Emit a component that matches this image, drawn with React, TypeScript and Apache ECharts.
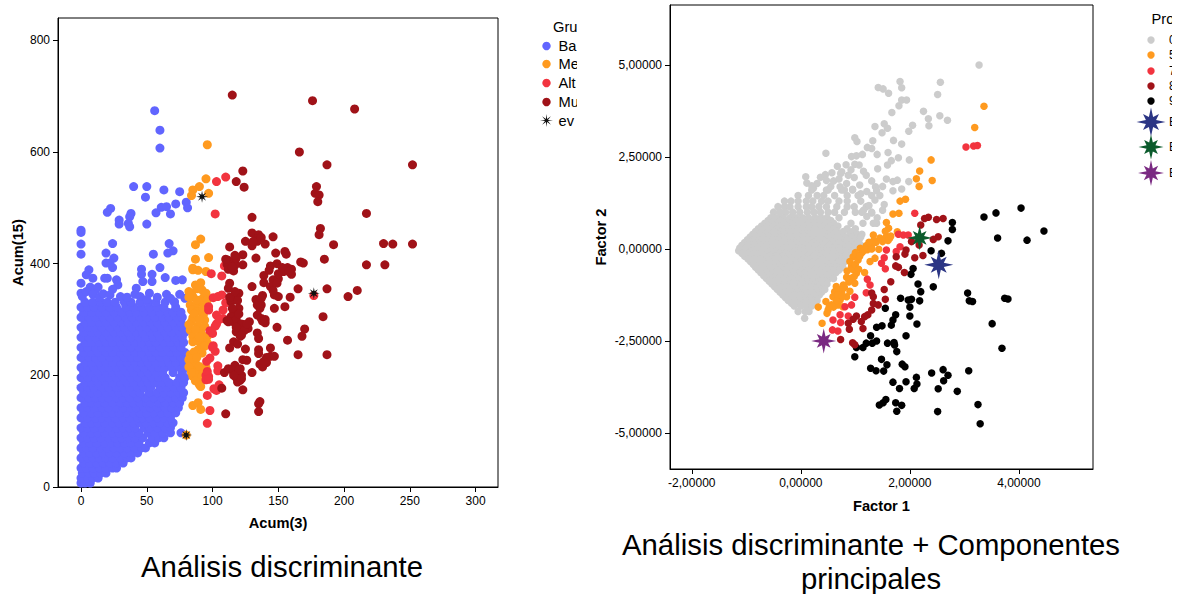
import React, { useEffect, useRef } from "react";
import * as echarts from "echarts";

const FONT = '"Liberation Sans", Arial, sans-serif';

// Left panel: rows of [y, x, x, ...]
const bajoRows: number[][] = [
  [7,0,3,7],[16,0,5,9,13],[25,1,6,10,15,19],[34,0,4,9,14,19,24,27],[43,2,7,12,17,22,27,32],
  [52,0,5,9,14,19,24,30,35,38],[61,2,7,12,17,22,27,33,38,43],[70,0,4,9,15,20,25,30,35,41,46,49],
  [79,2,7,12,18,23,28,33,38,44,52,56],[88,0,5,10,15,21,26,31,36,41,47,54,59,63],
  [97,2,8,13,18,24,29,34,39,44,51,56,62,68,76],[106,0,5,10,16,21,27,32,37,41,48,52,58,64,68],
  [115,3,8,13,18,24,29,34,40,45,49,55,60,66,70],[124,0,5,11,16,21,26,32,37,43,47,52,58,63,68],
  [133,2,8,13,19,24,29,35,40,45,50,55,61,66,72],[142,0,5,10,16,21,27,32,38,42,48,53,58,64,69,74],
  [151,3,8,13,18,24,30,35,40,45,50,53,59,64,70,75],[160,0,6,11,16,21,27,32,37,43,49,55,61,67,72,77],
  [169,2,8,13,19,24,29,34,40,45,52,58,63,68,74,78],[178,0,5,10,16,21,27,32,37,43,48,53,60,65,71,76],
  [187,3,8,13,19,24,30,35,40,46,51,56,62,67,73,78],[196,0,5,11,16,21,27,32,38,43,49,54,59,64,75,79],
  [205,2,8,13,19,24,29,35,40,46,51,57,62,70,77],[214,0,5,10,16,21,27,32,38,43,48,54,59,64,69,75,79],
  [223,3,8,14,19,24,30,35,41,46,51,57,62,67,72,78],[232,0,6,11,16,22,27,33,38,43,49,54,60,65,71,76],
  [241,2,8,13,19,24,30,35,41,46,52,57,62,68,73,79],[250,0,5,11,16,21,27,32,38,44,49,54,60,65,71,76],
  [259,3,8,14,19,24,30,35,41,46,52,57,63,68,74,78],[268,0,6,11,17,22,27,33,38,44,49,55,60,66,71,77],
  [277,2,8,13,19,25,30,36,42,47,53,58,64,69,75,79],[286,0,5,11,16,22,28,33,39,45,50,56,61,66,72,77],
  [295,3,8,14,19,25,31,36,42,48,53,58,64,70,76],[304,0,6,11,17,22,28,34,39,45,50,56,62,67,73,77],
  [313,2,8,14,19,25,31,37,42,48,54,60,66,70,76],[322,0,5,10,16,22,27,34,40,46,52,58,63,72],
  [331,3,9,15,20,26,33,38,45,51,57,64,71],
];
const bajoSparse: number[][] = [
  [56,674],[60,639],[60,607],[40,538],[50,538],[49,519],[63,532],[75,529],[72,507],[80,510],[81,500],
  [61,501],[65,502],[57,491],[68,489],[22.5,499],[20,492],[38,490],[37,484],[29,478],[29,471],[36,472],
  [37,466],[50,471],[0,460],[0,456],[0,435],[0,417],[24,436],[19,419],[67,436],[70,423],[66,419],[55,417],
  [25,410],[19,401],[24,393],[22,401],[46,390],[46,381],[60,393],[54,381],[54,368],[64,375],[72,370],
  [77,371],[6,389],[4,380],[9,374],[0,365],[18,374],[20,374],[27,371],[28,362],[24,354],[42,356],[47,368],
  [0,347],[1,341],[7,358],[11,353],[30,341],[52,347],[79,338],[71,332],
  [4,350],[9,345],[14,340],[13,358],[17,346],[22,344],[35,340],[41,345],[45,341],[50,336],[58,340],[65,345],[68,338],[75,345],
];
const medio: number[][] = [
  [80,93],[96,613],[95,552],[90,538],[85,532],[84,522],[97,526],[91,444],[87,434],[87,408],[97,411],[85,392],
  [85,389],[89,388],[95,386],[87,362],[91,366],[82,350],[92,353],[85,341],[90,332],[93,339],[83,326],[87,323],
  [92,332],[85,303],[93,308],[94,299],[83,281],[89,288],[91,278],[85,270],[96,270],[93,261],[91,250],[89,246],
  [83,237],[82,228],[83,222],[84,210],[85,198],[90,183],[89,210],[93,204],[87,222],[91,192],[85,146],[89,151],[91,139],
  [84,346],[88,355],[95,347],[82,340],[88,335],[96,335],[84,317],[88,314],[93,320],[86,310],[90,300],[84,296],
  [82,291],[87,282],[94,288],[85,260],[88,262],[96,258],[90,268],[94,252],[86,242],[84,230],[92,240],[88,232],
  [82,215],[86,204],[90,216],[95,214],[88,196],[92,198],[87,190],[91,180],[84,205],
];
const alto: number[][] = [
  [103,547],[110,555],[102,489],[109,396],[99,382],[107,378],[100.5,339],[107,344],[97,323],[97,317],[108,317],
  [103,308],[108,302],[98,280],[102,288],[100.5,253],[102,243],[98,231],[95.5,225],[104,217],[104,208],[95,200],
  [97,198],[95,192],[105,183],[103,173],[96,164],[98,137],[96,114],[177,343],
  [100,275],[103,292],[105,300],[96,207],[97,193],[101,176],[104,341],[110,330],[100,250],
];
const muyAlto: number[][] = [
  [115,702],[176,692],[208,677],[166,600],[187,577],[252,577],[123,566],[118,547],[124,537],[179,538],[178,526],
  [181,523],[180,511],[217,490],[130,483],[182,463],[181,452],[130,455],[135,452],[146,448],[134,445],[134,440],
  [130,432],[140,435],[192,434],[230,436],[237,435],[252,435],[113,430],[123,416],[148,419],[155,422],[156,417],
  [112,406],[117,405],[133,410],[185,408],[167,403],[169,401],[111,399],[123,398],[117,397],[116,387],[144,396],
  [149,400],[157,393],[217,398],[231,398],[160,390],[154,386],[160,381],[139,379],[150,373],[113,365],[112,356],
  [130,359],[139,366],[146,371],[144,359],[147,344],[150,341],[165,355],[187,355],[120,347],[117,342],[138,343],
  [159,340],[203,341],[210,352],[114,332],[133,336],[137,326],[136,320],[134,308],[155,323],[147,320],[120,320],
  [116,314],[114,305],[111,298],[116,296],[120,290],[128,296],[125,290],[140,294],[137,302],[184,305],[149,286],
  [121,281],[118,278],[127,284],[134,276],[135,266],[170,283],[168,270],[157,263],[121,270],[116,260],[119,256],
  [113,249],[125,247],[135,246],[135,239],[144,249],[144,234],[147,234],[165,237],[187,237],[123,228],[126,227],
  [136,220],[141,223],[138,215],[117,218],[115,209],[121,212],[119,203],[122,200],[121,191],[119,188],[109,205],
  [130,205],[107,177],[123,174],[136,153],[135,149],[135,135],[110,131],
  [118,300],[122,292],[124,280],[112,296],[118,286],[122,272],[126,292],[120,310],[115,320],[119,334],[113,340],
  [117,350],[122,194],[118,196],[120,210],[116,200],[112,212],[141,232],[139,225],[138,297],[140,300],[134,326],
  [137,338],[149,365],[146,352],[150,382],[153,393],[143,388],[158,386],[112,390],[118,410],[117,415],[110,408],
  [115,394],[131,440],[137,447],[125,440],
];
const eventos: number[][] = [[92,520],[177,347],[80,93]];

// Right panel: rows of [y, x, x, ...]
const gris0Rows: number[][] = [
  [1.6,0.2,0.5,0.75,0.95],
  [1.45,-0.05,0.14,0.3,0.42,0.62,0.85,1.05,1.3],
  [1.3,-0.3,-0.18,-0.05,0.1,0.22,0.38,0.5,0.7,0.85,1.1],
  [1.15,-0.42,-0.3,-0.2,-0.05,0.1,0.2,0.33,0.47,0.66,0.85,0.98,1.2],
  [1.0,-0.5,-0.38,-0.28,-0.15,-0.02,0.12,0.24,0.36,0.5,0.62,0.8,1.0,1.12,1.3],
  [0.85,-0.55,-0.44,-0.32,-0.2,-0.09,0.03,0.14,0.26,0.37,0.48,0.7],
  [0.775,-0.6,-0.49,-0.37,-0.26,-0.14,-0.03,0.09,0.2,0.32,0.43,0.55],
  [0.7,-0.66,-0.54,-0.43,-0.31,-0.2,-0.08,0.03,0.15,0.26,0.38,0.5,0.6,0.92],
  [0.625,-0.72,-0.6,-0.49,-0.37,-0.26,-0.14,-0.03,0.09,0.2,0.31,0.43,0.55,0.68],
  [0.55,-0.78,-0.66,-0.55,-0.43,-0.32,-0.2,-0.09,0.03,0.14,0.25,0.37,0.49,0.6,0.85,1],
  [0.475,-0.83,-0.71,-0.6,-0.48,-0.37,-0.25,-0.14,-0.02,0.09,0.2,0.32,0.44,0.55,0.66,0.78,0.95],
  [0.4,-0.88,-0.76,-0.65,-0.54,-0.42,-0.31,-0.19,-0.08,0.04,0.15,0.27,0.38,0.5,0.61,0.72,0.9,1.03,1.12],
  [0.325,-0.93,-0.82,-0.7,-0.59,-0.47,-0.36,-0.24,-0.13,-0.01,0.1,0.22,0.33,0.45,0.57,0.68,0.8,0.93,1.1],
  [0.25,-0.98,-0.87,-0.75,-0.64,-0.52,-0.41,-0.29,-0.18,-0.06,0.05,0.17,0.28,0.4,0.52,0.63,0.75,0.86,1,1.07],
  [0.175,-1.03,-0.91,-0.8,-0.68,-0.57,-0.45,-0.34,-0.22,-0.11,0.01,0.12,0.24,0.35,0.47,0.58,0.7,0.81,0.94,1.04],
  [0.1,-1.08,-0.96,-0.85,-0.73,-0.62,-0.5,-0.39,-0.27,-0.16,-0.04,0.07,0.19,0.3,0.42,0.53,0.65,0.76,0.88,0.98,1.1],
  [0.025,-1.12,-1,-0.9,-0.78,-0.67,-0.55,-0.44,-0.32,-0.21,-0.09,0.02,0.14,0.25,0.37,0.48,0.6,0.71,0.83,0.94,1.05],
  [-0.05,-1.14,-1.02,-0.91,-0.79,-0.68,-0.56,-0.45,-0.33,-0.22,-0.1,0.01,0.13,0.24,0.36,0.47,0.59,0.7,0.82,0.93,1.03],
  [-0.125,-1.08,-0.97,-0.85,-0.74,-0.62,-0.51,-0.39,-0.28,-0.16,-0.05,0.07,0.18,0.3,0.41,0.53,0.64,0.76,0.87,0.96],
  [-0.2,-1.03,-0.92,-0.8,-0.69,-0.57,-0.46,-0.34,-0.23,-0.11,0,0.12,0.23,0.35,0.46,0.58,0.69,0.81,0.88],
  [-0.275,-0.97,-0.86,-0.75,-0.63,-0.52,-0.4,-0.29,-0.17,-0.06,0.06,0.17,0.29,0.4,0.52,0.63,0.75,0.85],
  [-0.35,-0.92,-0.81,-0.69,-0.58,-0.46,-0.35,-0.23,-0.12,0,0.11,0.23,0.34,0.46,0.57,0.69,0.8],
  [-0.425,-0.87,-0.76,-0.64,-0.53,-0.41,-0.3,-0.18,-0.07,0.05,0.16,0.28,0.39,0.51,0.62,0.74],
  [-0.5,-0.83,-0.71,-0.6,-0.48,-0.37,-0.25,-0.14,-0.02,0.09,0.21,0.32,0.44,0.55,0.66,0.77],
  [-0.575,-0.78,-0.66,-0.55,-0.43,-0.32,-0.2,-0.09,0.03,0.14,0.26,0.37,0.49,0.6,0.7],
  [-0.65,-0.73,-0.62,-0.5,-0.39,-0.27,-0.16,-0.04,0.07,0.19,0.3,0.42,0.53,0.64],
  [-0.725,-0.68,-0.57,-0.45,-0.34,-0.22,-0.11,0.01,0.12,0.24,0.35,0.47,0.57],
  [-0.8,-0.63,-0.52,-0.4,-0.29,-0.17,-0.06,0.06,0.17,0.29,0.4,0.52,0.6],
  [-0.875,-0.58,-0.47,-0.35,-0.24,-0.12,-0.01,0.11,0.22,0.34,0.44],
  [-0.95,-0.53,-0.42,-0.3,-0.19,-0.07,0.04,0.16,0.27,0.39,0.48],
  [-1.025,-0.48,-0.36,-0.25,-0.13,-0.02,0.1,0.21,0.33,0.42],
  [-1.1,-0.43,-0.31,-0.2,-0.08,0.03,0.15,0.26,0.38,0.44],
  [-1.175,-0.38,-0.27,-0.15,-0.04,0.08,0.19,0.3,0.38],
  [-1.25,-0.33,-0.22,-0.1,0.01,0.13,0.24,0.34],
  [-1.325,-0.28,-0.16,-0.05,0.07,0.18,0.28],
  [-1.4,-0.23,-0.11,0,0.12,0.23,0.3],
  [-1.475,-0.17,-0.06,0.06,0.17,0.25],
  [-1.55,-0.12,0,0.1,0.2],
  [-1.7,-0.05,0.08,0.15],
  [-1.88,0.07],
];
const gris0Sparse: number[][] = [
  [1.42,4.39],[1.51,4.35],[1.82,4.55],[1.85,4.38],[1.61,4.23],[2.56,4.53],[2.51,4.2],[3.27,5.0],[1.85,4.05],[1.94,4.05],[1.8,3.89],
  [1.67,3.71],[2.25,3.74],[2.34,3.54],[2.55,3.62],[2.69,3.5],[2.35,3.35],[2.05,3.36],[1.98,3.2],[1.36,3.33],
  [1.53,3.4],[1.59,3.28],[1.49,3.16],[0.99,3.02],[1.03,2.92],[1.32,2.94],[1.7,2.95],[1.85,2.85],[0.46,2.6],
  [1.22,2.76],[1.3,2.73],[1.6,2.62],[1.4,2.57],[1.13,2.57],[1.02,2.53],[0.93,2.51],[1.79,2.48],[1.99,2.42],
  [1.66,2.4],[1.59,2.28],[0.99,2.3],[1.07,2.28],[0.83,2.29],[0.67,2.25],[1.41,2.18],[1.15,2.11],[0.57,2.07],
  [0.73,2.05],[0.87,2],[0.09,1.96],[0.11,1.79],[0.36,1.95],[0.47,1.86],[0.98,1.94],[1.57,1.9],[1.69,1.83],
  [1.77,1.87],[1.85,1.63],[1.69,1.58],[1.98,1.83],[1.36,1.33],[1.53,1.21],[0.23,1.65],[0.47,1.6],[0.72,1.69],
  [0.84,1.78],[1.08,1.74],[1.37,1.69],[1.21,1.56],[1.39,1.58],[1.39,0.7],[1.33,0.7],[1.21,0.88],[1.14,0.7],
  [0.3,1.78],[0.6,1.85],[0.2,1.72],[0.55,1.7],[0.95,1.62],[0.8,1.6],[1.1,1.5],[1.25,1.18],[1.45,1.45],[1.15,1.05],
  [1.3,0.98],[1.4,0.85],[1.5,1.05],[0.75,2.1],[0.92,2.15],[0.45,2.02],[1.2,2.0],[1.3,1.85],[1.5,1.7],[0.7,1.9],
];
const naranja5: number[][] = [
  [3.36,3.88],[3.19,3.3],[2.39,2.42],[2.18,2.12],[2.12,1.91],[2.41,1.86],[2.17,1.7],[1.82,1.3],[1.92,1.35],
  [1.69,0.95],[1.8,0.97],[1.57,0.72],[1.61,0.56],[1.77,0.47],[1.57,0.34],[1.63,0.29],[1.6,0.23],[1.33,0.38],
  [1.34,0.23],[1.3,0.11],[1.2,0.09],[1.09,0.02],[1.43,-0.01],[1.36,-0.25],[1.27,-0.34],[0.96,-0.21],[0.9,-0.34],
  [0.93,-0.48],[1.02,-0.66],[1.17,-0.64],[0.84,-0.77],[0.99,-0.93],[0.78,-0.98],[0.65,-1.02],[0.62,-1.16],
  [0.75,-1.16],[0.84,-1.3],[0.72,-1.39],[0.59,-1.3],[0.46,-1.43],[0.56,-1.52],[0.68,-1.52],[0.77,-1.57],
  [0.32,-1.58],[0.5,-1.66],[0.48,-1.75],[0.39,-2.02],
  [0.7,-1.1],[0.68,-1.25],[0.8,-1.05],[0.88,-0.9],[0.9,-1.15],[0.76,-1.3],[0.65,-1.42],[0.6,-1.58],[0.52,-1.58],
  [0.85,-0.6],[0.95,-0.55],[1,-0.42],[1.05,-0.3],[1.12,-0.1],[1,-0.1],[1.15,-0.05],[1.22,-0.02],[1.3,0],[1.25,0.18],
  [1.38,0.18],[1.45,0.3],[1.5,0.2],[1.65,0.35],[1.55,0.48],[1.06,-0.55],[0.98,-0.75],[0.92,-0.8],[1.08,-0.2],
];
const rojo7: number[][] = [
  [3.03,2.77],[3.17,2.8],[3.24,2.81],[2.09,0.97],[1.79,0.4],[1.88,0.38],[1.97,0.38],[1.57,-0.03],[1.75,-0.07],
  [1.82,0.06],[1.53,-0.24],[1.48,-0.39],[1.55,-0.54],[1.22,-0.82],[1.27,-0.98],[1.2,-1.19],[0.99,-1.31],
  [0.93,-1.52],[0.81,-1.57],[0.72,-1.79],[0.87,-1.82],[0.59,-1.93],[0.73,-2],[0.58,-2.2],[0.68,-2.23],
];
const granate8: number[][] = [
  [2.34,0.86],[2.27,0.83],[2.49,0.8],[2.61,0.83],[2.2,0.65],[2.52,0.33],[2.43,0.26],[2.03,0.2],[2.17,0.11],
  [1.93,-0.03],[1.91,-0.14],[1.75,-0.21],[2.09,-0.24],[2.24,-0.18],[1.74,-0.46],[1.79,-0.5],[1.9,-0.64],
  [1.65,-0.89],[1.53,-1.1],[1.3,-1.2],[1.33,-1.3],[1.55,-1.37],[1.33,-1.48],[1.42,-1.52],[1.3,-1.66],[1.23,-1.79],
  [1.17,-1.84],[1.02,-1.82],[0.96,-1.91],[0.87,-2.02],[0.89,-2.18],[1.11,-1.97],[1.14,-2.16],[0.73,-2.46],
  [0.95,-2.55],[0.99,-2.6],
];
const negro9: number[][] = [
  [3.36,0.87],[3.58,0.98],[4.04,1.11],[3.61,0.3],[4.15,0.24],[4.46,0.49],[2.78,0.72],[2.78,0.53],[2.7,0.22],
  [2.39,-0.05],[2.58,-0.12],[2.06,-0.53],[2.02,-0.69],[2.15,-0.95],[2.2,-1.16],[2.18,-1.41],[2.43,-1.03],[1.83,-1.34],
  [1.97,-1.39],[2.03,-1.37],[2,-1.58],[1.55,-1.61],[3.06,-1.2],[3.09,-1.41],[3.15,-1.43],[3.74,-1.34],[3.8,-1.36],
  [3.51,-2.03],[3.69,-2.7],[1.74,-1.79],[1.69,-1.93],[1.66,-2.07],[2,-1.82],[2.13,-2.04],[1.39,-2.13],[1.49,-2.09],
  [1.93,-2.36],[1.28,-2.36],[1.39,-2.5],[1.31,-2.56],[1.2,-2.56],[1.14,-2.68],[1.02,-2.68],[1.59,-2.56],[1.71,-2.54],
  [1.72,-2.61],[1.76,-2.79],[0.99,-2.93],[1.48,-3],[1.58,-3.15],[1.86,-3.13],[1.91,-3.2],[1.28,-3.24],[1.38,-3.31],
  [1.52,-3.32],[2.4,-3.37],[2.61,-3.28],[2.7,-3.43],[2.62,-3.58],[3.08,-3.31],[2.12,-3.49],[2.13,-3.67],[2.08,-3.79],
  [1.69,-3.62],[1.93,-3.61],[1.81,-3.79],[2.52,-3.8],[2.87,-3.87],[3.25,-4.23],[1.56,-4.09],[1.51,-4.18],[1.44,-4.24],
  [1.74,-4.18],[1.85,-4.25],[1.76,-4.41],[2.51,-4.42],[3.29,-4.75],
];
const estrellaAzul: number[][] = [[2.53,-0.43]];
const estrellaVerde: number[][] = [[2.18,0.3]];
const estrellaMorada: number[][] = [[0.42,-2.5]];

const leftXTicks = [0, 50, 100, 150, 200, 250, 300];
const leftYTicks = [0, 200, 400, 600, 800];
const rightXTicks = [-2, 0, 2, 4];
const rightYTicks = [-5, -2.5, 0, 2.5, 5];

const leftLegend = ["Ba", "Me", "Alt", "Mu", "ev"];
const rightLegend = ["0", "5", "7", "8", "9", "E", "E", "E"];

const C = {
  blue: "#6165ff", orange: "#ff9a1f", red: "#f2343f", dark: "#a01218", grey: "#cccccc",
  black: "#000000", navy: "#2b3584", green: "#0b5b2c", purple: "#7a2a82", event: "#111111",
};

const expand = (rows: number[][]) => rows.flatMap(([y, ...xs]) => xs.map((x) => [x, y]));

function starPoints(r: number, inner: number, diag: number) {
  const pts: number[][] = [];
  for (let i = 0; i < 16; i++) {
    const a = (i * Math.PI) / 8 - Math.PI / 2;
    const rad = i % 2 ? inner : i % 4 === 0 ? r : r * diag;
    pts.push([+(Math.cos(a) * rad).toFixed(2), +(Math.sin(a) * rad).toFixed(2)]);
  }
  return pts;
}
const starSym = (inner: number, diag: number) => {
  const p = starPoints(50, inner, diag).map(([x, y]) => [x + 50, y + 50]);
  return "path://M" + p.map(([x, y]) => `${x} ${y}`).join("L") + "Z";
};
const STAR = starSym(19, 0.78);
const ASTER = starSym(17, 0.95);

const axisBase = {
  type: "value" as const,
  splitLine: { show: false },
  axisLine: { show: true, onZero: false, lineStyle: { color: "#000", width: 1 } },
};

function xAxis(gridIndex: number, min: number, max: number, ticks: number[], fmt: any, name: string, gap: number) {
  return {
    ...axisBase, gridIndex, min, max, position: "bottom", name, nameLocation: "middle", nameGap: gap,
    nameTextStyle: { fontFamily: FONT, fontSize: 14.67, fontWeight: "bold", color: "#000" },
    axisTick: { show: true, length: 5, inside: false, customValues: ticks, lineStyle: { color: "#000" } },
    axisLabel: { show: true, customValues: ticks, formatter: fmt, fontFamily: FONT, fontSize: 12, color: "#000", margin: 8 },
  };
}
function yAxis(gridIndex: number, min: number, max: number, ticks: number[], fmt: any, name: string, gap: number) {
  return {
    ...axisBase, gridIndex, min, max, position: "left", name, nameLocation: "middle", nameGap: gap, nameRotate: 90,
    nameTextStyle: { fontFamily: FONT, fontSize: 14.67, fontWeight: "bold", color: "#000" },
    axisTick: { show: true, length: 5, inside: false, customValues: ticks, lineStyle: { color: "#000" } },
    axisLabel: { show: true, customValues: ticks, formatter: fmt, fontFamily: FONT, fontSize: 12, color: "#000", margin: 8 },
  };
}

const sc = (ax: number, data: number[][], color: string, size: number, z = 2, symbol: string = "circle") => ({
  type: "scatter" as const, xAxisIndex: ax, yAxisIndex: ax, data, symbol, symbolSize: size, z,
  itemStyle: { color, opacity: 1 }, emphasis: { disabled: true }, silent: true,
});

const txt = (x: number, y: number, text: string, fontSize = 14.67, align = "left") => ({
  type: "text" as const, x, y, silent: true, z: 20,
  style: { text, fontSize, fontFamily: FONT, fill: "#000", textAlign: align, textVerticalAlign: "middle" },
});
const dot = (cx: number, cy: number, r: number, fill: string) => ({
  type: "circle" as const, shape: { cx, cy, r }, style: { fill }, silent: true, z: 20,
});
const star = (x: number, y: number, r: number, inner: number, diag: number, fill: string) => ({
  type: "polygon" as const, x, y, shape: { points: starPoints(r, inner, diag) }, style: { fill }, silent: true, z: 20,
});

const LEFT_Y = [46, 64, 83, 102, 120.5];
const LEFT_C = [C.blue, C.orange, C.red, C.dark];
const RIGHT_Y = [40, 55, 71, 86, 101, 122, 147, 173];
const RIGHT_C = [C.grey, C.orange, C.red, C.dark, C.black];

export default function App() {
  const ref = useRef<HTMLDivElement>(null);
  useEffect(() => {
    const chart = echarts.init(ref.current!, undefined, { renderer: "svg" });
    const dec = (v: number) => v.toFixed(5).replace(".", ",");
    const elements: any[] = [
      txt(553, 27, "Gru"),
      ...LEFT_C.map((c, i) => dot(546.5, LEFT_Y[i], 4.2, c)),
      star(546.5, LEFT_Y[4], 6.5, 1.6, 0.95, C.event),
      ...leftLegend.map((t, i) => txt(558.5, LEFT_Y[i], t)),
      { type: "rect", shape: { x: 577, y: 10, width: 18, height: 125 }, style: { fill: "#fff" }, silent: true, z: 21 },
      txt(1151.5, 19, "Pro"),
      ...RIGHT_C.map((c, i) => dot(1151, RIGHT_Y[i], 3.7, c)),
      star(1151, RIGHT_Y[5], 14.5, 5.5, 0.78, C.navy),
      star(1151, RIGHT_Y[6], 12.5, 4.8, 0.78, C.green),
      star(1151, RIGHT_Y[7], 13, 4.8, 0.78, C.purple),
      ...rightLegend.map((t, i) => txt(1169, RIGHT_Y[i], t, 12)),
      { type: "rect", shape: { x: 1172, y: 5, width: 8, height: 185 }, style: { fill: "#fff" }, silent: true, z: 21 },
      txt(282, 566, "Análisis discriminante", 29.33, "center"),
      txt(871, 544, "Análisis discriminante + Componentes", 29.33, "center"),
      txt(871, 578, "principales", 29.33, "center"),
    ];
    chart.setOption({
      animation: false,
      backgroundColor: "#fff",
      grid: [
        { left: 58, top: 18, width: 440, height: 469, show: true, borderColor: "#000", borderWidth: 1, backgroundColor: "transparent" },
        { left: 670, top: 5, width: 423, height: 464, show: true, borderColor: "#000", borderWidth: 1, backgroundColor: "transparent" },
      ],
      xAxis: [
        xAxis(0, -17.5, 317, leftXTicks, (v: number) => String(v), "Acum(3)", 28),
        xAxis(1, -2.4, 5.36, rightXTicks, dec, "Factor 1", 29),
      ],
      yAxis: [
        yAxis(0, 0, 840, leftYTicks, (v: number) => String(v), "Acum(15)", 33),
        yAxis(1, -5.98, 6.63, rightYTicks, dec, "Factor 2", 62),
      ],
      series: [
        sc(0, [...expand(bajoRows), ...bajoSparse], C.blue, 9),
        sc(0, medio, C.orange, 9),
        sc(0, alto, C.red, 9),
        sc(0, muyAlto, C.dark, 9),
        sc(0, eventos, C.event, 12, 6, ASTER),
        sc(1, [...expand(gris0Rows), ...gris0Sparse], C.grey, 7.5),
        sc(1, naranja5, C.orange, 7.5),
        sc(1, rojo7, C.red, 7.5),
        sc(1, negro9, C.black, 7.5),
        sc(1, granate8, C.dark, 7.5),
        sc(1, estrellaAzul, C.navy, 29, 6, STAR),
        sc(1, estrellaVerde, C.green, 25, 6, STAR),
        sc(1, estrellaMorada, C.purple, 25, 6, STAR),
      ],
      graphic: { elements },
    });
    return () => chart.dispose();
  }, []);
  return <div ref={ref} style={{ position: "absolute", left: 0, top: 0, width: 1180, height: 594 }} />;
}
